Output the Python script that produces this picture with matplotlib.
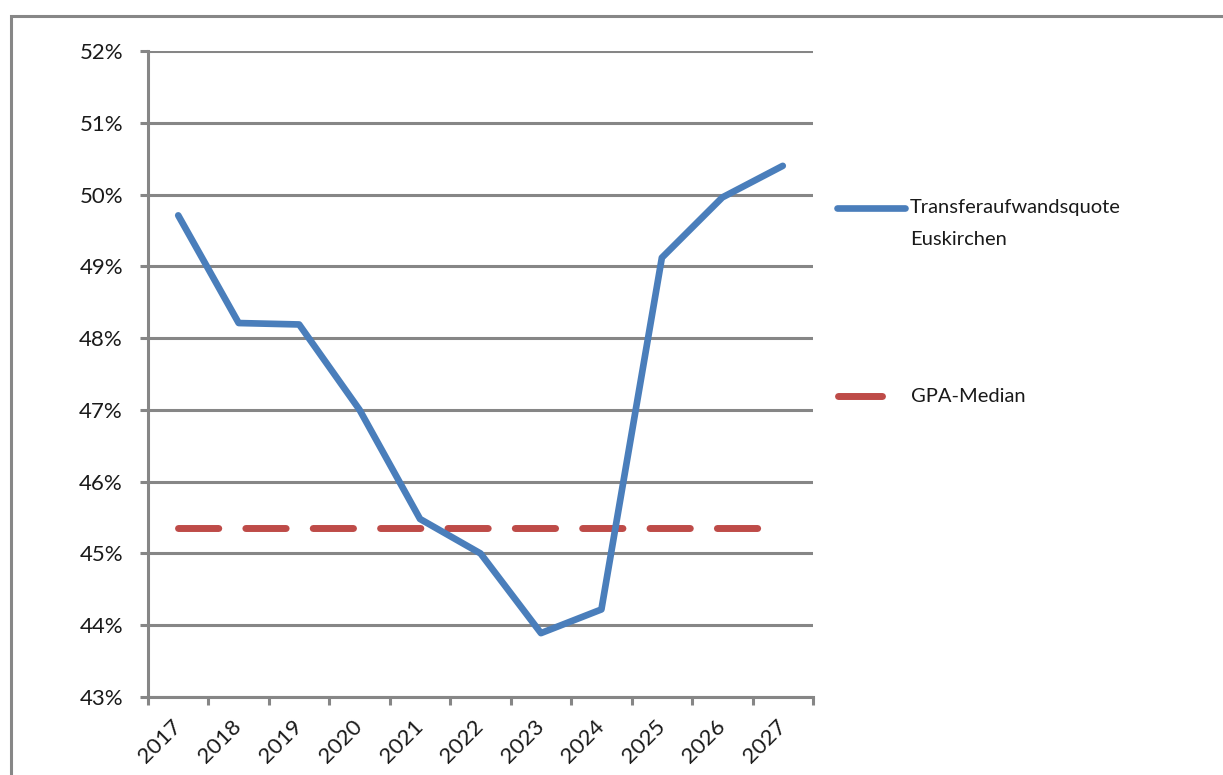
import matplotlib
matplotlib.use("Agg")
import matplotlib.pyplot as plt
from matplotlib.lines import Line2D
from matplotlib.patches import Rectangle
from matplotlib.ticker import FixedLocator, FuncFormatter

years = ["2017", "2018", "2019", "2020", "2021", "2022", "2023", "2024", "2025", "2026", "2027"]
quote_euskirchen = [49.71, 48.21, 48.19, 47.0, 45.48, 45.0, 43.89, 44.22, 49.12, 49.96, 50.40]
gpa_median = [45.36] * len(years)

W, H = 1223, 775
BLUE = "#4a7ebb"
RED = "#be4b48"
GRID = "#868686"
TEXT = "#1a1a1a"

plt.rcParams["font.family"] = ["Lato", "DejaVu Sans"]


def px(x, y):
    # pixel coords (origin top-left) -> figure fraction
    return x / W, 1 - y / H


def main():
    fig = plt.figure(figsize=(W / 100, H / 100), dpi=100)
    left, top = px(148, 51)
    right, bottom = px(813, 697)
    ax = fig.add_axes([left, bottom, right - left, top - bottom])

    x = list(range(len(years)))
    ax.plot(x, quote_euskirchen, color=BLUE, lw=4.8, solid_joinstyle="round",
            solid_capstyle="round", zorder=3)
    ax.plot(x, gpa_median, color=RED, lw=5, dash_capstyle="round",
            linestyle=(0, (5.8, 3.9)), zorder=2)

    ax.set_xlim(-0.5, len(years) - 0.5)
    ax.set_ylim(43, 52)
    ax.yaxis.set_major_locator(FixedLocator(range(43, 53)))
    ax.yaxis.set_major_formatter(FuncFormatter(lambda v, p: f"{v:.0f}%"))
    ax.grid(axis="y", color=GRID, lw=2.2)
    ax.set_axisbelow(True)

    # category boundaries as major ticks, labels on minor ticks
    ax.xaxis.set_major_locator(FixedLocator([i - 0.5 for i in range(len(years) + 1)]))
    ax.xaxis.set_major_formatter(FuncFormatter(lambda v, p: ""))
    ax.xaxis.set_minor_locator(FixedLocator(x))
    ax.set_xticklabels(years, minor=True)
    ax.tick_params(axis="x", which="major", length=6, width=2.2, color=GRID)
    ax.tick_params(axis="x", which="minor", length=0, pad=19, labelsize=16, labelcolor=TEXT)
    for lab in ax.get_xticklabels(minor=True):
        lab.set_rotation(45)
        lab.set_ha("right")
        lab.set_va("center")
        lab.set_rotation_mode("anchor")
    ax.tick_params(axis="y", length=6, width=2.2, color=GRID, pad=12,
                   labelsize=16, labelcolor=TEXT)

    for side in ["top", "right"]:
        ax.spines[side].set_visible(False)
    for side in ["left", "bottom"]:
        ax.spines[side].set_color(GRID)
        ax.spines[side].set_linewidth(2.2)

    # legend, placed like the spreadsheet one
    x0, y0 = px(837, 208)
    x1, _ = px(905, 208)
    fig.add_artist(Line2D([x0, x1], [y0, y0], color=BLUE, lw=4.8,
                          solid_capstyle="round", transform=fig.transFigure))
    tx, ty = px(910, 199)
    fig.text(tx, ty, "Transferaufwandsquote\nEuskirchen", fontsize=14.5, color=TEXT,
             va="top", ha="left", linespacing=2.05)
    x0, y0 = px(838, 396)
    x1, _ = px(882, 396)
    fig.add_artist(Line2D([x0, x1], [y0, y0], color=RED, lw=5,
                          solid_capstyle="round", transform=fig.transFigure))
    tx, ty = px(911, 396)
    fig.text(tx, ty, "GPA-Median", fontsize=14.5, color=TEXT, va="center", ha="left")

    # outer chart frame (runs off the right and bottom edge)
    fx, fy = px(11, 16)
    fig.add_artist(Rectangle((fx, -0.2), 1.5, fy + 0.2, transform=fig.transFigure,
                             fill=False, ec="#878787", lw=2.2, clip_on=False))

    fig.savefig("out.png", dpi=100)


if __name__ == "__main__":
    main()
